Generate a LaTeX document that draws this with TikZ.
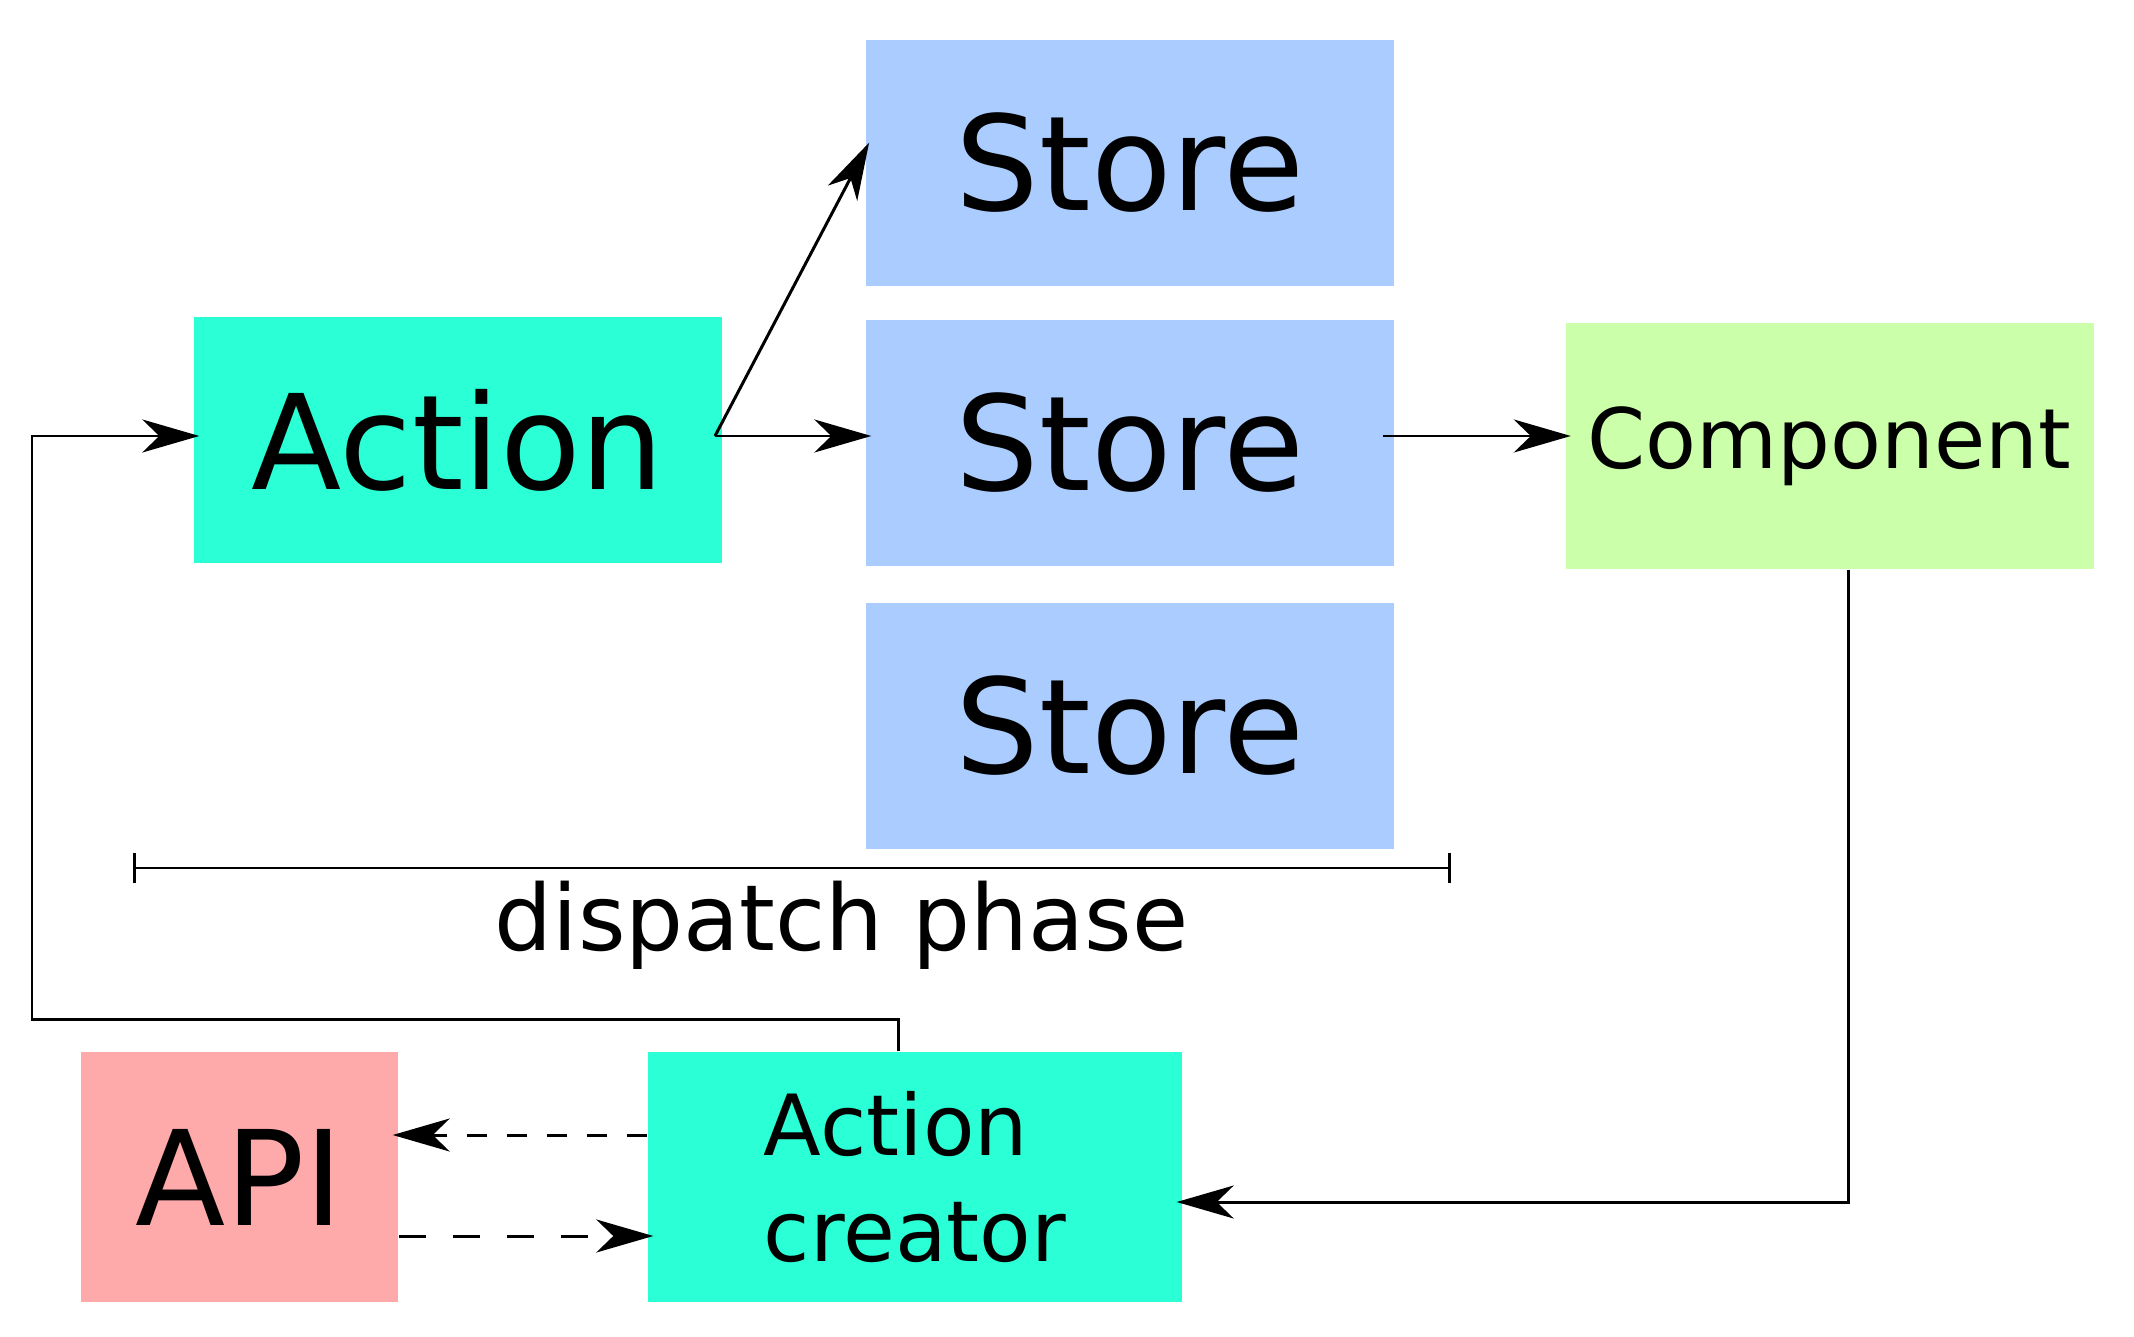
\documentclass[tikz,border=0pt]{standalone}
\usepackage{fontspec}
\setmainfont{DejaVu Sans}
\usetikzlibrary{arrows.meta,calc}
\definecolor{actioncol}{HTML}{2AFFD5}
\definecolor{storecol}{HTML}{AACCFF}
\definecolor{compcol}{HTML}{CCFFAA}
\definecolor{apicol}{HTML}{FFAAAA}
\tikzset{
  box/.style={rectangle,inner sep=0pt,minimum width=5.28cm,minimum height=2.46cm},
  bigtext/.style={font=\fontsize{37.5}{45}\selectfont},
  midtext/.style={font=\fontsize{24}{30}\selectfont},
  flow/.style={line width=0.85pt,shorten >=-0.06cm,-{Stealth[length=0.57cm,width=0.33cm,inset=0.17cm]}},
}
\begin{document}
\begin{tikzpicture}
\useasboundingbox (0,0) rectangle (21.34,13.36);
\node[box,fill=actioncol,bigtext] (act) at (4.58,8.96) {Action\hspace{0.4cm}};
\node[box,fill=storecol,bigtext] (s1) at (11.30,11.73) {Store};
\node[box,fill=storecol,bigtext] (s2) at (11.30,8.93) {Store};
\node[box,fill=storecol,bigtext] (s3) at (11.30,6.10) {Store};
\node[box,fill=compcol,font=\fontsize{23.7}{29}\selectfont] (comp) at (18.295,8.90) {Component};
\node[box,fill=apicol,bigtext,minimum width=3.17cm,minimum height=2.5cm] (api) at (2.395,1.59) {API};
\node[box,fill=actioncol,midtext,minimum width=5.34cm,minimum height=2.5cm,align=left] (ac) at (9.15,1.59) {Action\\creator};
\coordinate (fork) at (7.15,9.0);
\coordinate (loop) at (0.32,3.17);
\coordinate (phL) at (1.33,4.68);
\coordinate (phR) at (14.51,4.68);
\draw[flow] (fork) -- (fork -| s2.west);
\draw[flow] (fork) -- ($(s1.west)+(0.01,0.15)$);
\draw[flow] ([xshift=-0.12cm]s2.east |- fork) -- (comp.west |- fork);
\draw[flow] ([xshift=0.185cm]comp.south) |- ([yshift=-0.25cm]ac.east);
\draw[flow] ([xshift=-0.17cm]ac.north) |- (loop) |- (fork -| act.west);
\draw[flow,dash pattern=on 0.2cm off 0.2cm] ([yshift=0.42cm]ac.west) -- ([yshift=0.42cm]api.east);
\draw[flow,dash pattern=on 0.27cm off 0.27cm] ([yshift=-0.59cm]api.east) -- ([yshift=-0.59cm]ac.west);
\draw[line width=0.85pt,{Bar[width=0.3cm]}-{Bar[width=0.3cm]}] (phL) -- (phR);
\node[font=\fontsize{26}{31}\selectfont,anchor=base] (phase) at (8.415,3.86) {dispatch phase};
\end{tikzpicture}
\end{document}
